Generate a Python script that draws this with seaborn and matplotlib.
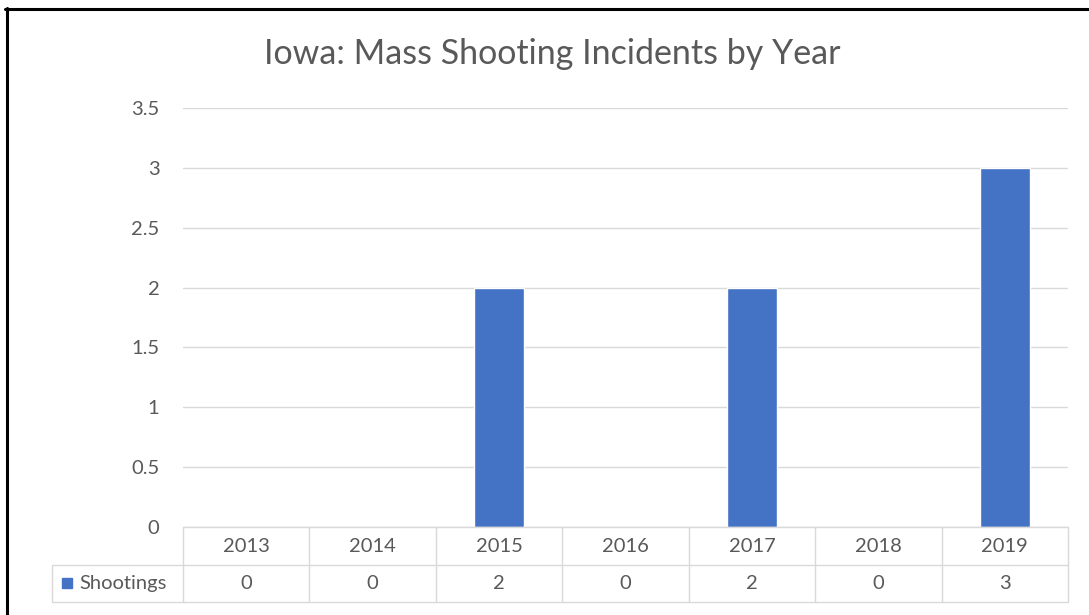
import matplotlib
matplotlib.use("Agg")
import matplotlib.pyplot as plt
import matplotlib.lines as mlines
import matplotlib.patches as mpatches
import seaborn as sns
import pandas as pd

years = ["2013", "2014", "2015", "2016", "2017", "2018", "2019"]
shootings = [0, 0, 2, 0, 2, 0, 3]
series_name = "Shootings"
title = "Iowa: Mass Shooting Incidents by Year"
yticks = [0, 0.5, 1, 1.5, 2, 2.5, 3, 3.5]
ytick_labels = ["0", "0.5", "1", "1.5", "2", "2.5", "3", "3.5"]

BAR = "#4472C4"
GRID = "#D9D9D9"
TXT = "#595959"
FS = 14.5

sns.set_theme(style="white")
plt.rcParams["font.family"] = ["Lato", "DejaVu Sans"]

W, H = 1089, 615
fig = plt.figure(figsize=(W / 100, H / 100), dpi=100)
fig.patch.set_facecolor("white")

x0, x1, ybot, ytop = 183, 1068, 527, 108
ax = fig.add_axes([x0 / W, 1 - ybot / H, (x1 - x0) / W, (ybot - ytop) / H])

df = pd.DataFrame({"Year": years, "Shootings": shootings})
sns.barplot(data=df, x="Year", y="Shootings", color=BAR, width=0.4, saturation=1, ax=ax, zorder=3)

ax.set_ylim(0, 3.5)
ax.set_xlim(-0.5, len(years) - 0.5)
ax.set_yticks(yticks)
ax.set_yticklabels(ytick_labels, color=TXT, fontsize=FS)
ax.tick_params(axis="y", length=0, pad=17)
ax.set_xticks([])
ax.set_xlabel("")
ax.set_ylabel("")
for s in ax.spines.values():
    s.set_visible(False)
ax.yaxis.grid(True, color=GRID, linewidth=1)
ax.set_axisbelow(True)

fig.text(552 / W, 1 - 54 / H, title, ha="center", va="center", fontsize=24.5, color=TXT)

# data table below the axis (figure pixel geometry)
def fx(px):
    return px / W

def fy(py):
    return 1 - py / H

colw = (x1 - x0) / len(years)
row1, row2, row3 = 527, 565, 602
left_edge = 52
lw = 1.0
fig.add_artist(mlines.Line2D([fx(x0), fx(x1)], [fy(row1), fy(row1)], color=GRID, lw=lw))
fig.add_artist(mlines.Line2D([fx(left_edge), fx(x1)], [fy(row2), fy(row2)], color=GRID, lw=lw))
fig.add_artist(mlines.Line2D([fx(left_edge), fx(x1)], [fy(row3), fy(row3)], color=GRID, lw=lw))
fig.add_artist(mlines.Line2D([fx(left_edge), fx(left_edge)], [fy(row2), fy(row3)], color=GRID, lw=lw))
for k in range(len(years) + 1):
    xp = x0 + k * colw
    fig.add_artist(mlines.Line2D([fx(xp), fx(xp)], [fy(row1), fy(row3)], color=GRID, lw=lw))

for i, (yr, v) in enumerate(zip(years, shootings)):
    cx = x0 + (i + 0.5) * colw
    fig.text(fx(cx), fy((row1 + row2) / 2), yr, ha="center", va="center", fontsize=FS, color=TXT)
    fig.text(fx(cx), fy((row2 + row3) / 2), str(v), ha="center", va="center", fontsize=FS, color=TXT)

fig.add_artist(mpatches.Rectangle((fx(62), fy(588)), 10 / W, 10 / H, color=BAR, transform=fig.transFigure))
fig.text(fx(79), fy((row2 + row3) / 2), series_name, ha="left", va="center", fontsize=FS, color=TXT)

# black frame edges (left and top)
fig.add_artist(mlines.Line2D([fx(6.5), fx(6.5)], [fy(8), 0], color="black", lw=2.2))
fig.add_artist(mlines.Line2D([fx(5), 1], [fy(9), fy(9)], color="black", lw=2.2))

fig.savefig("out.png", dpi=100, facecolor="white")
